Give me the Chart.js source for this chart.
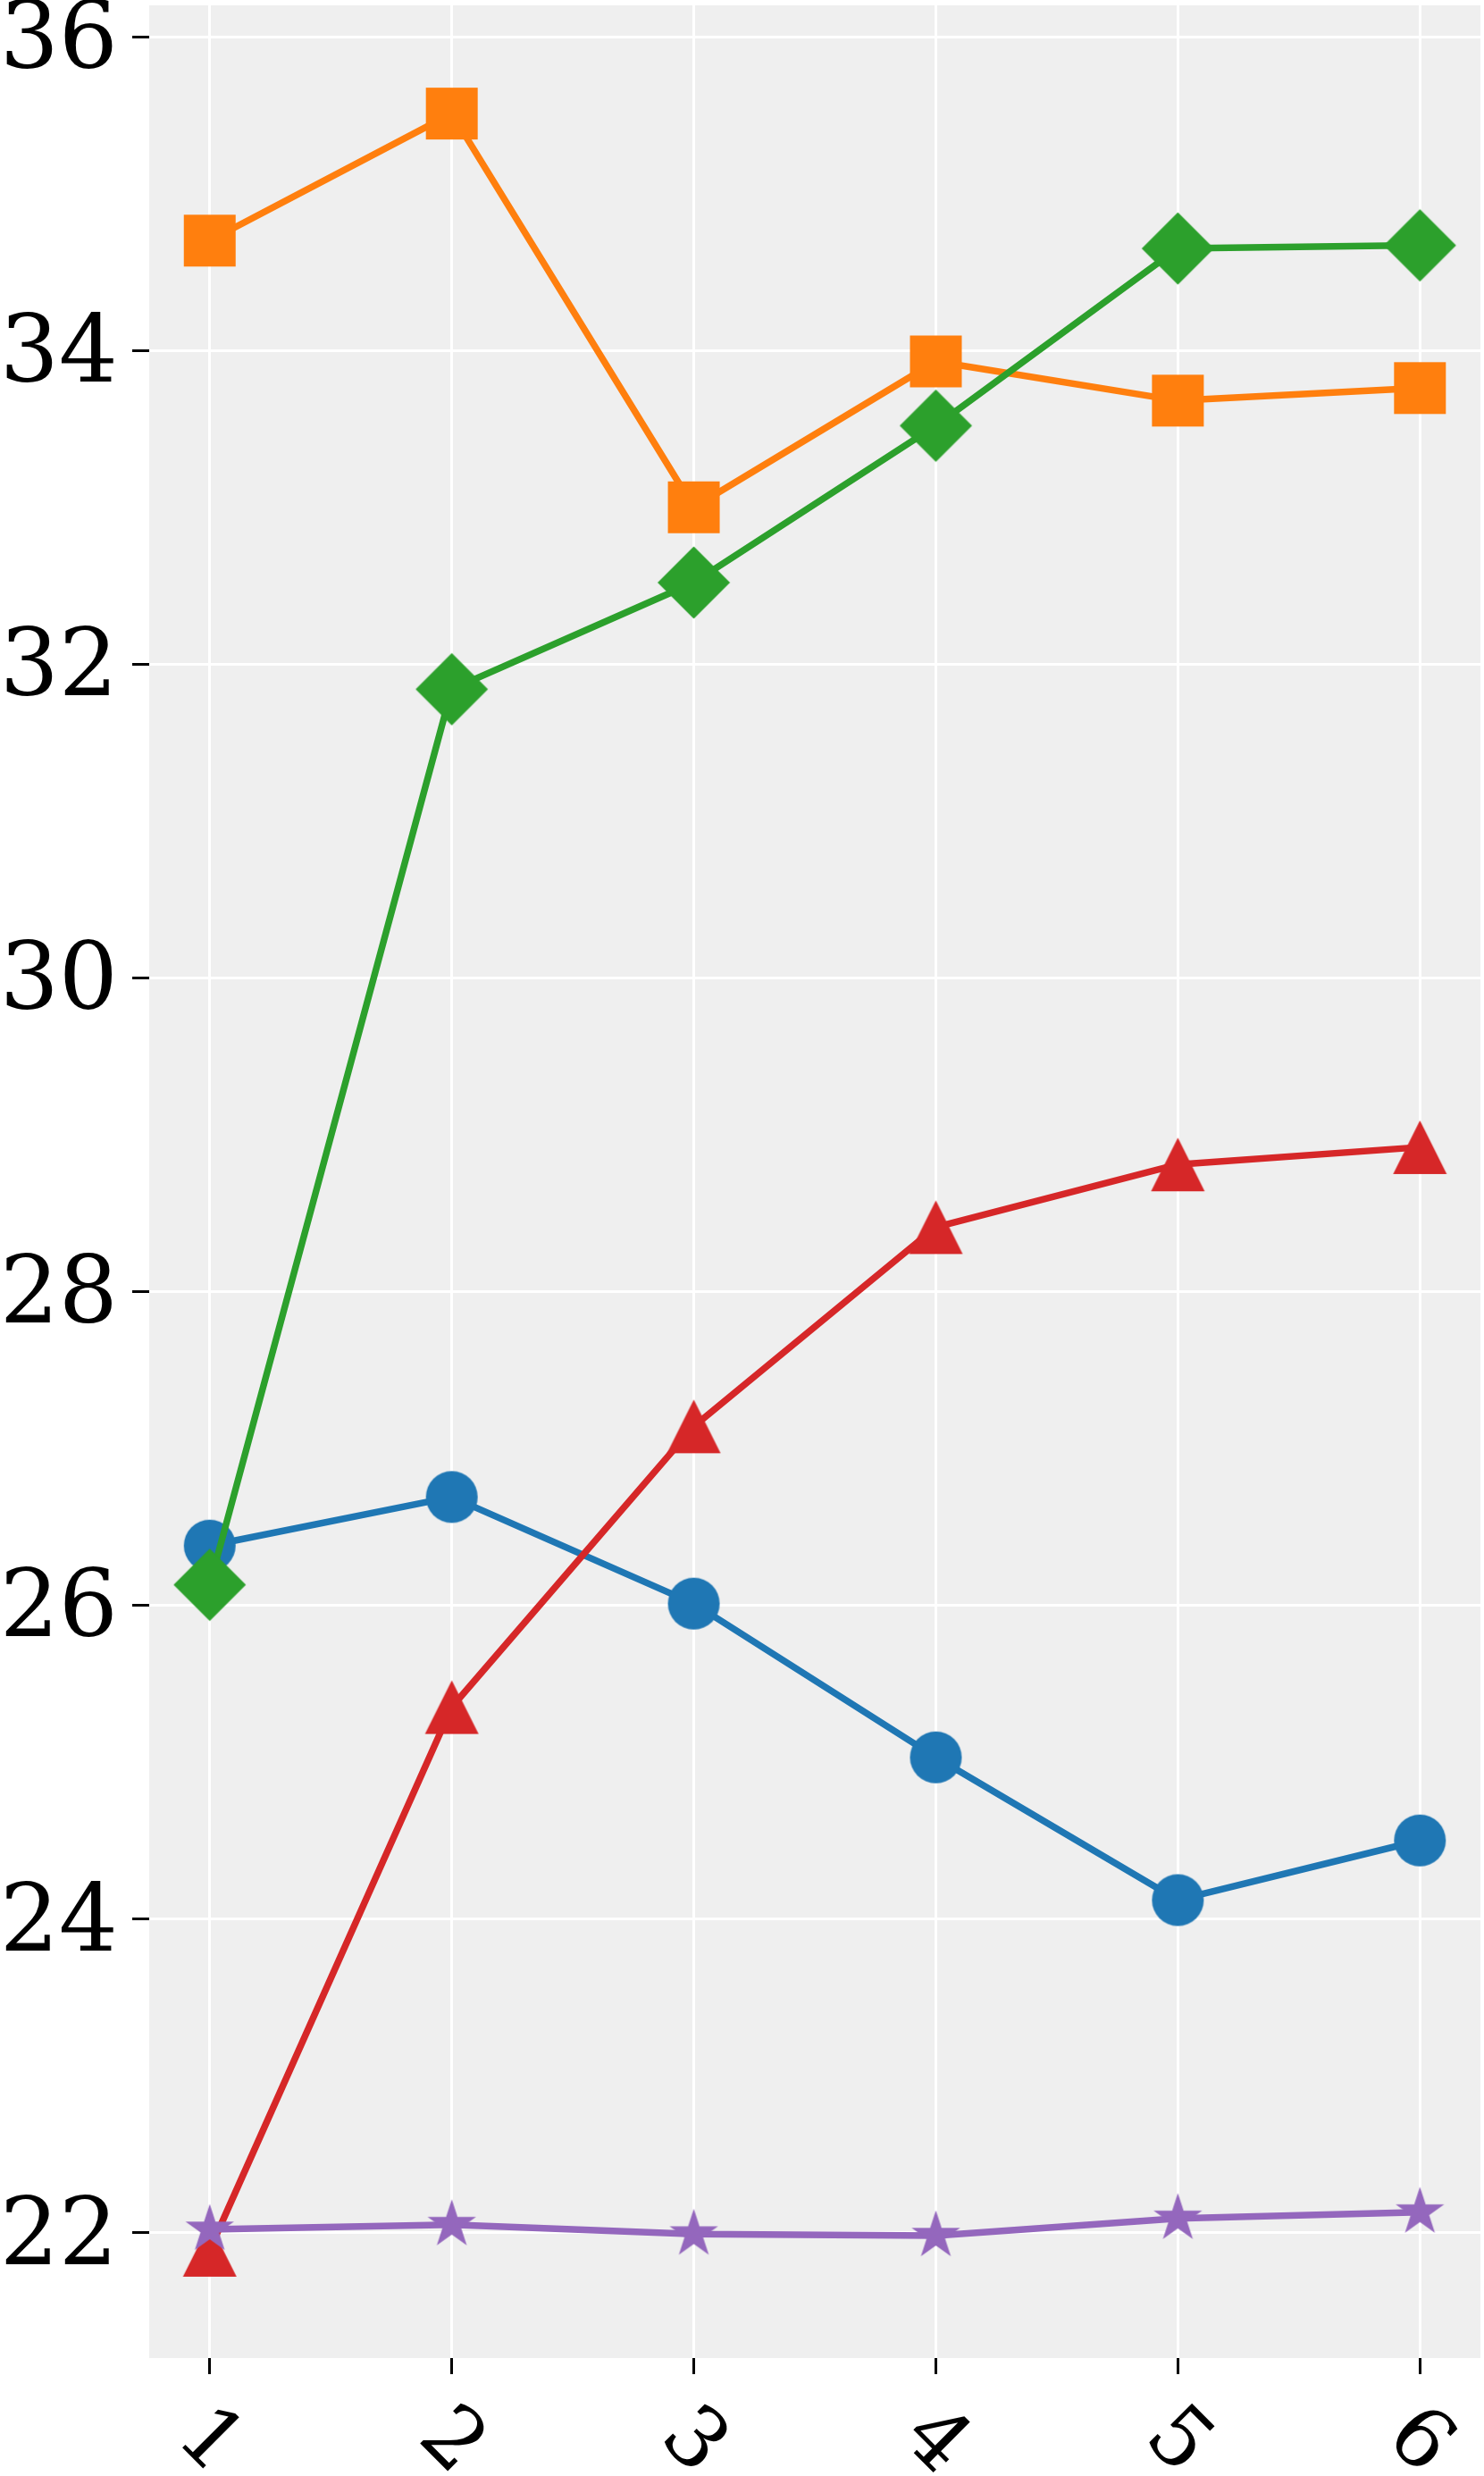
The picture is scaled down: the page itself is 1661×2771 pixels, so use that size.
<!DOCTYPE html>
<html>
<head>
<meta charset="utf-8">
<script src="https://cdn.jsdelivr.net/npm/chart.js@4/dist/chart.umd.min.js"></script>
<style>
  html, body { margin: 0; padding: 0; background: #ffffff; overflow: hidden; }
  #wrap { width: 1661px; height: 2771px; position: relative; }
</style>
</head>
<body>
<div id="wrap"><canvas id="c"></canvas></div>
<script>
// ---- data ----
const xValues = [1, 2, 3, 4, 5, 6];
const xLabels = ['1', '2', '3', '4', '5', '6'];
const yTicks = [22, 24, 26, 28, 30, 32, 34, 36];

const seriesBlue   = [26.38, 26.69, 26.01, 25.03, 24.12, 24.50];
const seriesOrange = [34.70, 35.51, 33.00, 33.93, 33.68, 33.76];
const seriesGreen  = [26.13, 31.84, 32.52, 33.52, 34.65, 34.67];
const seriesRed    = [21.89, 25.35, 27.14, 28.41, 28.81, 28.92];
const seriesPurple = [22.02, 22.05, 21.99, 21.98, 22.09, 22.13];

// ---- marker images ----
function makeMarker(shape, color) {
  const size = 86;
  const c = document.createElement('canvas');
  c.width = size; c.height = size;
  const g = c.getContext('2d');
  const cx = size / 2, cy = size / 2;
  g.fillStyle = color;
  g.beginPath();
  if (shape === 'circle') {
    g.arc(cx, cy, 29, 0, Math.PI * 2);
  } else if (shape === 'square') {
    const h = 29;
    g.rect(cx - h, cy - h, 2 * h, 2 * h);
  } else if (shape === 'diamond') {
    const r = 40.5;
    g.moveTo(cx, cy - r); g.lineTo(cx + r, cy); g.lineTo(cx, cy + r); g.lineTo(cx - r, cy);
  } else if (shape === 'triangle') {
    const h = 30;
    g.moveTo(cx, cy - h); g.lineTo(cx + h, cy + h); g.lineTo(cx - h, cy + h);
  } else if (shape === 'star') {
    const R = 28.5, r = R * 0.381966;
    for (let i = 0; i < 10; i++) {
      const rad = (i % 2 === 0) ? R : r;
      const a = -Math.PI / 2 + i * Math.PI / 5;
      const px = cx + rad * Math.cos(a), py = cy + rad * Math.sin(a);
      if (i === 0) g.moveTo(px, py); else g.lineTo(px, py);
    }
  }
  g.closePath();
  g.fill();
  return c;
}

function pts(arr) { return xValues.map((x, i) => ({ x: x, y: arr[i] })); }

const defs = [
  { data: seriesBlue,   color: '#1f77b4', shape: 'circle',   order: 5 },
  { data: seriesOrange, color: '#ff7f0e', shape: 'square',   order: 4 },
  { data: seriesGreen,  color: '#2ca02c', shape: 'diamond',  order: 3 },
  { data: seriesRed,    color: '#d62728', shape: 'triangle', order: 2 },
  { data: seriesPurple, color: '#9467bd', shape: 'star',     order: 1 }
];

const datasets = defs.map(d => ({
  data: pts(d.data),
  borderColor: d.color,
  backgroundColor: d.color,
  borderWidth: 7.5,
  borderJoinStyle: 'round',
  pointStyle: makeMarker(d.shape, d.color),
  pointRadius: 20,
  pointHoverRadius: 20,
  order: d.order,
  tension: 0,
  clip: false
}));

const FONT = '"DejaVu Serif", "Liberation Serif", serif';

const bgPlugin = {
  id: 'bg',
  beforeDraw(chart) {
    const a = chart.chartArea, ctx = chart.ctx;
    ctx.save();
    ctx.fillStyle = '#efefef';
    ctx.fillRect(a.left, a.top, a.right - a.left, a.bottom - a.top);
    ctx.restore();
  }
};

const xLabelPlugin = {
  id: 'xlabels',
  afterDraw(chart) {
    const xs = chart.scales.x, ctx = chart.ctx;
    const fs = 93;
    ctx.save();
    ctx.font = fs + 'px ' + FONT;
    ctx.fillStyle = '#000';
    ctx.textAlign = 'center';
    ctx.textBaseline = 'alphabetic';
    xValues.forEach((v, i) => {
      const px = xs.getPixelForValue(v);
      ctx.save();
      ctx.translate(px + 5, xs.top + 88);
      ctx.rotate(Math.PI / 4);
      ctx.fillText(xLabels[i], 0, 0.365 * fs);
      ctx.restore();
    });
    ctx.restore();
  }
};

new Chart(document.getElementById('c'), {
  type: 'line',
  data: { datasets: datasets },
  options: {
    responsive: true,
    maintainAspectRatio: false,
    devicePixelRatio: 1,
    animation: false,
    events: [],
    layout: { autoPadding: false, padding: { top: 6, right: 4, bottom: 0, left: 0 } },
    plugins: { legend: { display: false }, tooltip: { enabled: false } },
    scales: {
      x: {
        type: 'linear',
        min: 0.75,
        max: 6.25,
        afterBuildTicks(scale) { scale.ticks = xValues.map(v => ({ value: v })); },
        afterFit(scale) { scale.height = 132; scale.paddingLeft = 0; scale.paddingRight = 0; },
        border: { display: false },
        grid: { color: '#ffffff', lineWidth: 3, drawTicks: true, tickLength: 18, tickColor: '#000000', tickWidth: 3 },
        ticks: { display: false }
      },
      y: {
        type: 'linear',
        min: 21.2,
        max: 36.2,
        afterBuildTicks(scale) { scale.ticks = yTicks.map(v => ({ value: v })); },
        afterFit(scale) { scale.width = 167; scale.paddingTop = 0; scale.paddingBottom = 0; },
        border: { display: false },
        grid: { color: '#ffffff', lineWidth: 3, drawTicks: true, tickLength: 19, tickColor: '#000000', tickWidth: 3 },
        ticks: {
          color: '#000000',
          padding: 16,
          labelOffset: 8,
          font: { family: FONT, size: 104 },
          callback: v => String(v)
        }
      }
    }
  },
  plugins: [bgPlugin, xLabelPlugin]
});
</script>
</body>
</html>
